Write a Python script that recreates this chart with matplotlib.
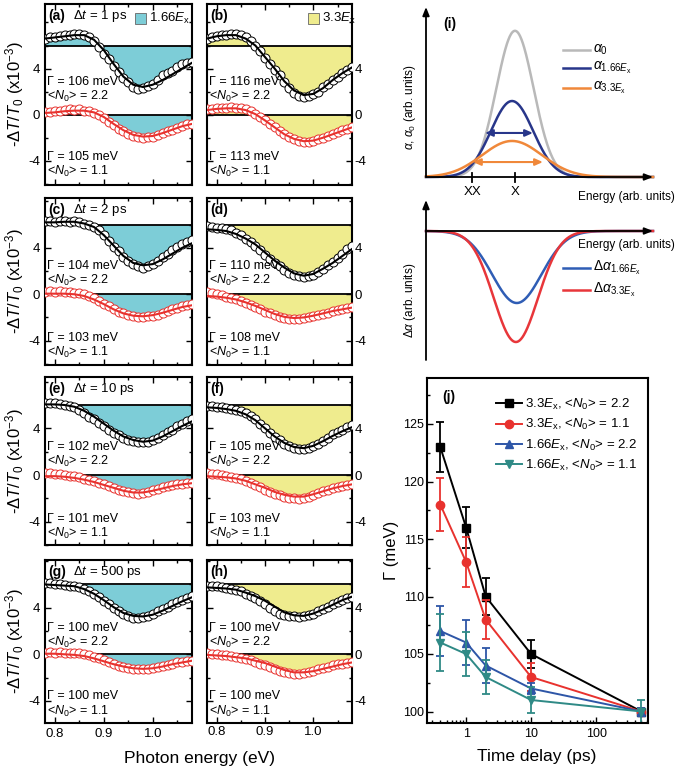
import numpy as np
import matplotlib
matplotlib.use("Agg")
import matplotlib.pyplot as plt
from matplotlib.patches import Rectangle
from matplotlib.ticker import MultipleLocator, FormatStrFormatter, FixedLocator, LogLocator, NullFormatter

plt.rcParams["font.family"] = ["Liberation Sans", "DejaVu Sans"]
plt.rcParams["mathtext.fontset"] = "custom"
plt.rcParams["mathtext.rm"] = "Liberation Sans"
plt.rcParams["mathtext.it"] = "Liberation Sans:italic"
plt.rcParams["mathtext.bf"] = "Liberation Sans:bold"
plt.rcParams["axes.unicode_minus"] = False

# ============================================================
# DATA: spectra (a)-(h), -dT/T0 in 1e-3, upper trace shifted by +6
# ============================================================
E_data = np.linspace(0.78, 1.08, 31)   # photon energies of measured points (eV)
E_fit = np.linspace(0.78, 1.08, 16)    # photon energies of fit samples (eV)
OFFSET = 6.0

a_hi = [6.6, 6.7, 6.7, 6.8, 6.9, 6.9, 7.0, 7.0, 6.9, 6.7, 6.4, 5.9, 5.3, 4.8, 4.2, 3.7, 3.2, 2.8, 2.4, 2.2,
        2.3, 2.5, 2.7, 3.0, 3.4, 3.6, 3.8, 4.1, 4.4, 4.5, 4.6]
a_lo = [0.2, 0.25, 0.3, 0.35, 0.4, 0.45, 0.4, 0.45, 0.35, 0.3, 0.15, -0.05, -0.3, -0.6, -0.9, -1.2, -1.45, -1.7,
        -1.85, -1.95, -2.0, -1.95, -1.9, -1.8, -1.6, -1.45, -1.3, -1.15, -1.0, -0.85, -0.8]
b_hi = [6.6, 6.7, 6.8, 6.9, 6.9, 7.0, 7.0, 6.9, 6.7, 6.4, 6.0, 5.5, 4.9, 4.4, 3.9, 3.4, 2.8, 2.3, 1.9, 1.6,
        1.5, 1.6, 1.8, 2.0, 2.4, 2.7, 3.0, 3.3, 3.6, 3.9, 4.1]
b_lo = [0.45, 0.5, 0.55, 0.6, 0.6, 0.65, 0.6, 0.55, 0.45, 0.3, 0.1, -0.2, -0.5, -0.8, -1.1, -1.4, -1.7, -1.95,
        -2.15, -2.3, -2.4, -2.35, -2.25, -2.15, -2.0, -1.85, -1.7, -1.5, -1.35, -1.2, -1.1]
c_hi = [6.3, 6.3, 6.25, 6.3, 6.3, 6.25, 6.3, 6.2, 6.1, 6.0, 5.8, 5.5, 5.1, 4.6, 4.1, 3.7, 3.2, 2.9, 2.6, 2.4,
        2.3, 2.4, 2.6, 2.9, 3.2, 3.5, 3.8, 4.1, 4.3, 4.5, 4.7]
c_lo = [0.2, 0.25, 0.2, 0.25, 0.2, 0.2, 0.15, 0.1, 0.0, -0.15, -0.35, -0.55, -0.8, -1.05, -1.3, -1.5, -1.65, -1.8,
        -1.9, -1.95, -2.0, -1.9, -1.85, -1.75, -1.6, -1.45, -1.3, -1.15, -1.05, -0.95, -0.85]
d_hi = [5.85, 5.8, 5.75, 5.7, 5.6, 5.5, 5.3, 5.1, 4.8, 4.5, 4.2, 3.8, 3.4, 3.0, 2.7, 2.4, 2.1, 1.8, 1.65, 1.55,
        1.5, 1.55, 1.7, 1.9, 2.2, 2.5, 2.8, 3.1, 3.5, 3.9, 4.2]
d_lo = [0.2, 0.1, 0.0, -0.1, -0.2, -0.3, -0.45, -0.6, -0.75, -0.9, -1.1, -1.3, -1.5, -1.65, -1.8, -1.95, -2.05,
        -2.1, -2.15, -2.1, -2.05, -2.0, -1.9, -1.8, -1.7, -1.6, -1.45, -1.35, -1.3, -1.2, -1.1]
e_hi = [6.2, 6.2, 6.15, 6.1, 6.0, 5.9, 5.8, 5.6, 5.3, 5.0, 4.8, 4.5, 4.2, 3.9, 3.6, 3.4, 3.2, 3.0, 2.9, 2.8,
        2.8, 2.85, 3.0, 3.2, 3.4, 3.7, 3.9, 4.2, 4.4, 4.6, 4.8]
e_lo = [0.2, 0.15, 0.1, 0.05, 0.0, -0.05, -0.1, -0.2, -0.3, -0.4, -0.5, -0.65, -0.8, -0.95, -1.1, -1.25, -1.35,
        -1.45, -1.5, -1.6, -1.55, -1.45, -1.3, -1.2, -1.05, -0.95, -0.85, -0.8, -0.75, -0.7, -0.65]
f_hi = [5.95, 5.9, 5.85, 5.8, 5.75, 5.7, 5.6, 5.5, 5.3, 5.1, 4.8, 4.4, 4.0, 3.6, 3.3, 3.0, 2.7, 2.5, 2.35, 2.25,
        2.2, 2.3, 2.5, 2.7, 2.95, 3.2, 3.5, 3.7, 3.9, 4.1, 4.3]
f_lo = [0.15, 0.1, 0.05, 0.0, -0.1, -0.15, -0.25, -0.35, -0.5, -0.65, -0.85, -1.05, -1.25, -1.45, -1.6, -1.75,
        -1.85, -1.95, -2.0, -2.05, -2.0, -1.85, -1.7, -1.55, -1.4, -1.25, -1.1, -1.0, -0.9, -0.85, -0.75]
g_hi = [6.1, 6.1, 6.05, 6.0, 5.95, 5.9, 5.85, 5.75, 5.6, 5.4, 5.2, 4.9, 4.6, 4.3, 4.0, 3.7, 3.5, 3.3, 3.15, 3.1,
        3.2, 3.3, 3.5, 3.7, 3.9, 4.1, 4.3, 4.5, 4.7, 4.85, 5.0]
g_lo = [0.15, 0.2, 0.15, 0.2, 0.15, 0.15, 0.1, 0.1, 0.05, -0.05, -0.2, -0.35, -0.5, -0.7, -0.85, -1.0, -1.1,
        -1.2, -1.25, -1.3, -1.3, -1.25, -1.2, -1.1, -1.0, -0.9, -0.8, -0.7, -0.65, -0.6, -0.55]
h_hi = [5.9, 5.9, 5.85, 5.8, 5.7, 5.65, 5.55, 5.4, 5.2, 5.0, 4.8, 4.6, 4.3, 4.0, 3.75, 3.5, 3.35, 3.3, 3.25, 3.2,
        3.3, 3.4, 3.5, 3.7, 3.9, 4.1, 4.3, 4.5, 4.65, 4.8, 4.95]
h_lo = [0.1, 0.05, 0.0, -0.05, -0.1, -0.15, -0.2, -0.3, -0.4, -0.5, -0.65, -0.8, -0.95, -1.1, -1.25, -1.4, -1.5,
        -1.6, -1.65, -1.7, -1.6, -1.5, -1.4, -1.3, -1.2, -1.05, -0.95, -0.85, -0.8, -0.75, -0.7]

a_hi_fit = [6.6, 6.7, 6.8, 6.9, 6.9, 6.5, 5.6, 4.4, 3.3, 2.6, 2.4, 2.6, 3.0, 3.5, 4.0, 4.5]
a_lo_fit = [0.15, 0.2, 0.3, 0.35, 0.35, 0.2, -0.2, -0.8, -1.35, -1.75, -1.9, -1.85, -1.6, -1.3, -1.0, -0.8]
b_hi_fit = [6.6, 6.8, 6.9, 6.9, 6.6, 6.0, 5.0, 4.0, 2.9, 2.1, 1.7, 1.8, 2.3, 3.0, 3.6, 4.1]
b_lo_fit = [0.4, 0.5, 0.55, 0.55, 0.4, 0.05, -0.5, -1.1, -1.7, -2.1, -2.3, -2.25, -2.0, -1.7, -1.4, -1.1]
c_hi_fit = [6.2, 6.2, 6.25, 6.25, 6.1, 5.8, 5.1, 4.2, 3.3, 2.7, 2.5, 2.6, 3.0, 3.5, 4.0, 4.4]
c_lo_fit = [0.05, 0.05, 0.05, 0.0, -0.15, -0.45, -0.85, -1.3, -1.65, -1.85, -1.9, -1.8, -1.6, -1.35, -1.1, -0.95]
d_hi_fit = [5.6, 5.55, 5.45, 5.2, 4.8, 4.3, 3.6, 2.9, 2.3, 1.8, 1.6, 1.75, 2.2, 2.7, 3.3, 3.9]
d_lo_fit = [-0.15, -0.2, -0.3, -0.45, -0.7, -1.0, -1.35, -1.7, -1.95, -2.05, -2.0, -1.85, -1.65, -1.45, -1.3, -1.15]
e_hi_fit = [6.05, 6.05, 6.0, 5.85, 5.5, 5.0, 4.4, 3.8, 3.3, 3.0, 2.85, 2.95, 3.3, 3.75, 4.2, 4.6]
e_lo_fit = [-0.1, -0.1, -0.15, -0.25, -0.4, -0.6, -0.85, -1.1, -1.35, -1.5, -1.5, -1.35, -1.15, -0.95, -0.8, -0.7]
f_hi_fit = [5.8, 5.75, 5.65, 5.5, 5.2, 4.7, 4.0, 3.3, 2.75, 2.4, 2.3, 2.5, 2.9, 3.35, 3.75, 4.1]
f_lo_fit = [-0.1, -0.15, -0.2, -0.3, -0.5, -0.8, -1.1, -1.45, -1.7, -1.85, -1.85, -1.65, -1.4, -1.15, -0.95, -0.8]
g_hi_fit = [6.0, 5.95, 5.9, 5.85, 5.6, 5.2, 4.65, 4.05, 3.55, 3.3, 3.25, 3.4, 3.75, 4.15, 4.55, 4.9]
g_lo_fit = [0.05, 0.05, 0.0, -0.05, -0.15, -0.35, -0.6, -0.85, -1.05, -1.2, -1.25, -1.2, -1.05, -0.85, -0.7, -0.55]
h_hi_fit = [5.75, 5.7, 5.65, 5.55, 5.3, 5.0, 4.6, 4.1, 3.6, 3.35, 3.3, 3.5, 3.85, 4.25, 4.65, 4.95]
h_lo_fit = [-0.05, -0.1, -0.15, -0.25, -0.35, -0.55, -0.75, -1.05, -1.35, -1.55, -1.55, -1.45, -1.25, -1.05, -0.85, -0.7]

delays = ["1 ps", "2 ps", "10 ps", "500 ps"]
gamma_hi = [[106, 116], [104, 110], [102, 105], [100, 100]]
gamma_lo = [[105, 113], [103, 108], [101, 103], [100, 100]]
n0_hi, n0_lo = 2.2, 1.1

# ============================================================
# DATA: schematic (i) -- gaussian peak height, centre, width (arb.)
# ============================================================
alpha_amp = [0.86, 0.447, 0.212]
alpha_cen = [3.92, 3.79, 3.79]
alpha_wid = [0.82, 0.93, 1.32]
dalpha_amp = [-0.72, -1.11]
dalpha_cen = [4.0, 3.96]
dalpha_wid = [1.08, 0.97]

# ============================================================
# DATA: (j) linewidth vs delay
# ============================================================
delay_ps = [0.4, 1, 2, 10, 500]
G_33_22 = [123, 116, 110, 105, 100]
G_33_22_err = [2.2, 1.8, 1.6, 1.2, 0.3]
G_33_11 = [118, 113, 108, 103, 100]
G_33_11_err = [2.3, 2.15, 1.7, 1.25, 0.3]
G_166_22 = [107, 106, 104, 102, 100]
G_166_22_err = [2.2, 1.95, 1.55, 0.5, 0.3]
G_166_11 = [106, 105, 103, 101, 100]
G_166_11_err = [2.45, 1.95, 1.5, 1.1, 1.0]

# ============================================================
# FIGURE
# ============================================================
W, H = 685, 771
fig = plt.figure(figsize=(W / 100, H / 100), dpi=100)


def px_axes(x0, y0, x1, y1):
    return fig.add_axes([x0 / W, 1 - y1 / H, (x1 - x0) / W, (y1 - y0) / H])


CYAN = "#7dcdd7"
YELLOW = "#efec8e"
RED = "#e8322e"

rows_px = [(4, 185), (198, 365), (377, 545), (560, 723)]
cols_px = [(45, 192), (207, 352)]
row_ylim = [(-6.1, 9.6), (-6.1, 8.3), (-6.0, 8.4), (-5.9, 8.1)]
text_y = [(2.85, 1.55, -3.65, -4.95), (2.4, 1.15, -3.75, -5.05),
          (2.4, 1.15, -3.75, -5.05), (2.3, 1.05, -3.6, -4.9)]
letters = [["a", "b"], ["c", "d"], ["e", "f"], ["g", "h"]]
hi_sets = [[a_hi, b_hi], [c_hi, d_hi], [e_hi, f_hi], [g_hi, h_hi]]
lo_sets = [[a_lo, b_lo], [c_lo, d_lo], [e_lo, f_lo], [g_lo, h_lo]]
hi_fits = [[a_hi_fit, b_hi_fit], [c_hi_fit, d_hi_fit], [e_hi_fit, f_hi_fit], [g_hi_fit, h_hi_fit]]
lo_fits = [[a_lo_fit, b_lo_fit], [c_lo_fit, d_lo_fit], [e_lo_fit, f_lo_fit], [g_lo_fit, h_lo_fit]]
fills = [CYAN, YELLOW]

for r, (top, bot) in enumerate(rows_px):
    hpx = bot - top
    for c, (left, right) in enumerate(cols_px):
        ax = px_axes(left, top, right, bot)
        fc = fills[c]
        ax.fill_between(E_fit, hi_fits[r][c], OFFSET, color=fc, lw=0, zorder=1)
        ax.fill_between(E_fit, lo_fits[r][c], 0, color=fc, lw=0, zorder=1)
        ax.axhline(OFFSET, color="k", lw=1.3, zorder=2)
        ax.axhline(0, color="k", lw=1.3, zorder=2)
        ax.plot(E_data, hi_sets[r][c], "o", mfc="white", mec="k", ms=6.5, mew=0.7, zorder=3)
        ax.plot(E_fit, hi_fits[r][c], "-", color="k", lw=1.5, zorder=4)
        ax.plot(E_data, lo_sets[r][c], "o", mfc="white", mec=RED, ms=6.5, mew=0.7, zorder=3)
        ax.plot(E_fit, lo_fits[r][c], "-", color=RED, lw=1.5, zorder=4)

        ax.set_xlim(0.78, 1.08)
        ax.set_ylim(*row_ylim[r])
        ax.xaxis.set_major_locator(MultipleLocator(0.1))
        ax.xaxis.set_minor_locator(MultipleLocator(0.05))
        ax.xaxis.set_major_formatter(FormatStrFormatter("%.1f"))
        ax.yaxis.set_major_locator(FixedLocator([-4, 0, 4]))
        ax.yaxis.set_minor_locator(FixedLocator([-6, -2, 2, 6, 8]))
        ax.tick_params(which="both", direction="in", top=True, right=True, left=True, labelsize=9.5,
                       width=1.0)
        ax.tick_params(which="major", length=4)
        ax.tick_params(which="minor", length=2)
        if c == 1:
            ax.tick_params(labelleft=False, labelright=True, pad=2)
        if r < 3:
            ax.tick_params(labelbottom=False)
        for sp in ax.spines.values():
            sp.set_linewidth(1.5)

        ty = text_y[r]
        ax.text(0.785, ty[0], "Γ = %d meV" % gamma_hi[r][c], fontsize=9, va="center")
        ax.text(0.785, ty[1], "<$N_0$> = %.1f" % n0_hi, fontsize=9, va="center")
        ax.text(0.785, ty[2], "Γ = %d meV" % gamma_lo[r][c], fontsize=9, va="center")
        ax.text(0.785, ty[3], "<$N_0$> = %.1f" % n0_lo, fontsize=9, va="center")

        yl = 1 - 12 / hpx
        ax.text(0.02, yl, "(%s)" % letters[r][c], transform=ax.transAxes, fontsize=10,
                fontweight="bold", va="center")
        if c == 0:
            ax.text(0.19, yl, "Δ$t$ = %s" % delays[r], transform=ax.transAxes, fontsize=9.5,
                    va="center")
        if r == 0:
            wpx = right - left
            bx = 90 if c == 0 else 101
            lab = "1.66$E_\\mathrm{x}$" if c == 0 else "3.3$E_\\mathrm{x}$"
            ax.add_patch(Rectangle((bx / wpx, 1 - 20 / hpx), 11 / wpx, 11 / hpx, transform=ax.transAxes,
                                   fc=fc, ec="#666666", lw=0.6, zorder=5))
            ax.text((bx + 14) / wpx, 1 - 14 / hpx, lab, transform=ax.transAxes, fontsize=9.5, va="center")

    fig.text(15 / W, 1 - (top + bot) / 2 / H, "-Δ$T$/$T_0$ (x10$^{-3}$)", rotation=90,
             ha="center", va="center", fontsize=12)

fig.text(200 / W, 1 - 758 / H, "Photon energy (eV)", ha="center", va="center", fontsize=12.5)

# ============================================================
# (i) schematic absorption
# ============================================================
GRAY, NAVY, ORANGE = "#b9b9b9", "#28368a", "#f0883a"
BLUE2, RED2 = "#2f5db5", "#e8363a"
Es = np.linspace(0, 10, 500)
arrow_kw = dict(arrowstyle="-|>,head_length=0.5,head_width=0.2", color="k", lw=1.3, shrinkA=0, shrinkB=0)

ax_i = px_axes(426, 7, 653, 177)
ax_i.set_xlim(0, 10)
ax_i.set_ylim(0, 1)
ax_i.axis("off")
for amp, cen, wid, col in zip(alpha_amp, alpha_cen, alpha_wid, [GRAY, NAVY, ORANGE]):
    ax_i.plot(Es, amp * np.exp(-0.5 * ((Es - cen) / wid) ** 2), color=col, lw=1.8, clip_on=False)
ax_i.annotate("", xy=(10, 0), xytext=(0, 0), arrowprops=arrow_kw, annotation_clip=False)
ax_i.annotate("", xy=(0, 1), xytext=(0, 0), arrowprops=arrow_kw, annotation_clip=False)
ax_i.annotate("", xy=(4.71, 0.259), xytext=(2.6, 0.259), annotation_clip=False,
              arrowprops=dict(arrowstyle="<|-|>,head_length=0.45,head_width=0.2", color=NAVY, lw=1.5,
                              shrinkA=0, shrinkB=0))
ax_i.annotate("", xy=(5.15, 0.088), xytext=(2.07, 0.088), annotation_clip=False,
              arrowprops=dict(arrowstyle="<|-|>,head_length=0.45,head_width=0.2", color=ORANGE, lw=1.5,
                              shrinkA=0, shrinkB=0))
for xt, lab in [(2.03, "XX"), (3.92, "X")]:
    ax_i.plot([xt, xt], [-0.03, 0.025], color="k", lw=1.3, clip_on=False)
    ax_i.text(xt, -0.09, lab, ha="center", va="center", fontsize=9.5)
ax_i.text(10.95, -0.12, "Energy (arb. units)", ha="right", va="center", fontsize=8.5)
ax_i.text(0.75, 0.9, "(i)", fontsize=10, fontweight="bold", va="center")
for yy, col, lab in [(0.747, GRAY, "$\\alpha_0$"), (0.641, NAVY, "$\\alpha_{1.66E_\\mathrm{x}}$"),
                     (0.524, ORANGE, "$\\alpha_{3.3E_\\mathrm{x}}$")]:
    ax_i.plot([6.04, 7.22], [yy, yy], color=col, lw=1.8)
    ax_i.text(7.36, yy, lab, fontsize=10, va="center")
fig.text(410 / W, 1 - 107 / H, "$\\alpha$, $\\alpha_0$ (arb. units)", rotation=90, ha="center",
         va="center", fontsize=8.5)

# lower schematic: change of absorption
ax_d = px_axes(426, 200, 653, 360)
ax_d.set_xlim(0, 10)
ax_d.set_ylim(-1.29, 0.31)
ax_d.axis("off")
for amp, cen, wid, col in zip(dalpha_amp, dalpha_cen, dalpha_wid, [BLUE2, RED2]):
    ax_d.plot(Es, amp * np.exp(-0.5 * ((Es - cen) / wid) ** 2), color=col, lw=1.8, clip_on=False)
ax_d.annotate("", xy=(10, 0), xytext=(0, 0), arrowprops=arrow_kw, annotation_clip=False)
ax_d.annotate("", xy=(0, 0.31), xytext=(0, -1.29), arrowprops=arrow_kw, annotation_clip=False)
ax_d.text(10.95, -0.14, "Energy (arb. units)", ha="right", va="center", fontsize=8.5)
for yy, col, lab in [(-0.37, BLUE2, "Δ$\\alpha_{1.66E_\\mathrm{x}}$"), (-0.59, RED2, "Δ$\\alpha_{3.3E_\\mathrm{x}}$")]:
    ax_d.plot([6.04, 7.22], [yy, yy], color=col, lw=1.8)
    ax_d.text(7.36, yy, lab, fontsize=10, va="center")
fig.text(410 / W, 1 - 300 / H, "Δ$\\alpha$ (arb. units)", rotation=90, ha="center", va="center",
         fontsize=8.5)

# ============================================================
# (j) linewidth vs time delay
# ============================================================
ax_j = px_axes(427, 378, 648, 723)
series = [(G_33_22, G_33_22_err, "k", "s", "3.3$E_\\mathrm{x}$, <$N_0$> = 2.2"),
          (G_33_11, G_33_11_err, RED, "o", "3.3$E_\\mathrm{x}$, <$N_0$> = 1.1"),
          (G_166_22, G_166_22_err, "#2e56a7", "^", "1.66$E_\\mathrm{x}$, <$N_0$> = 2.2"),
          (G_166_11, G_166_11_err, "#2f8a86", "v", "1.66$E_\\mathrm{x}$, <$N_0$> = 1.1")]
for vals, errs, col, mk, lab in series:
    ax_j.errorbar(delay_ps, vals, yerr=errs, fmt="none", ecolor=col, elinewidth=1.3,
                  capsize=3, capthick=1.3)
    ax_j.plot(delay_ps, vals, color=col, marker=mk, ms=6, lw=1.4, label=lab)
ax_j.set_xscale("log")
ax_j.set_xlim(0.25, 630)
ax_j.set_ylim(99, 129)
ax_j.xaxis.set_major_locator(FixedLocator([1, 10, 100]))
ax_j.set_xticklabels(["1", "10", "100"])
ax_j.xaxis.set_minor_locator(LogLocator(base=10, subs=np.arange(2, 10)))
ax_j.xaxis.set_minor_formatter(NullFormatter())
ax_j.yaxis.set_major_locator(MultipleLocator(5))
ax_j.yaxis.set_minor_locator(MultipleLocator(2.5))
ax_j.tick_params(which="both", direction="in", labelsize=9, width=1.0)
ax_j.tick_params(axis="y", pad=2)
ax_j.tick_params(which="major", length=4)
ax_j.tick_params(which="minor", length=2)
for sp in ax_j.spines.values():
    sp.set_linewidth(1.5)
ax_j.text(0.07, 0.945, "(j)", transform=ax_j.transAxes, fontsize=10, fontweight="bold", va="center")
ax_j.legend(loc="upper left", bbox_to_anchor=(0.31, 0.945), frameon=False, fontsize=9.5,
            handlelength=2.0, handletextpad=0.2, labelspacing=0.4, borderpad=0, borderaxespad=0)
fig.text(392 / W, 1 - 550 / H, "Γ (meV)", rotation=90, ha="center", va="center", fontsize=12)
fig.text(537 / W, 1 - 757 / H, "Time delay (ps)", ha="center", va="center", fontsize=12.5)

fig.savefig("out.png", dpi=100)
